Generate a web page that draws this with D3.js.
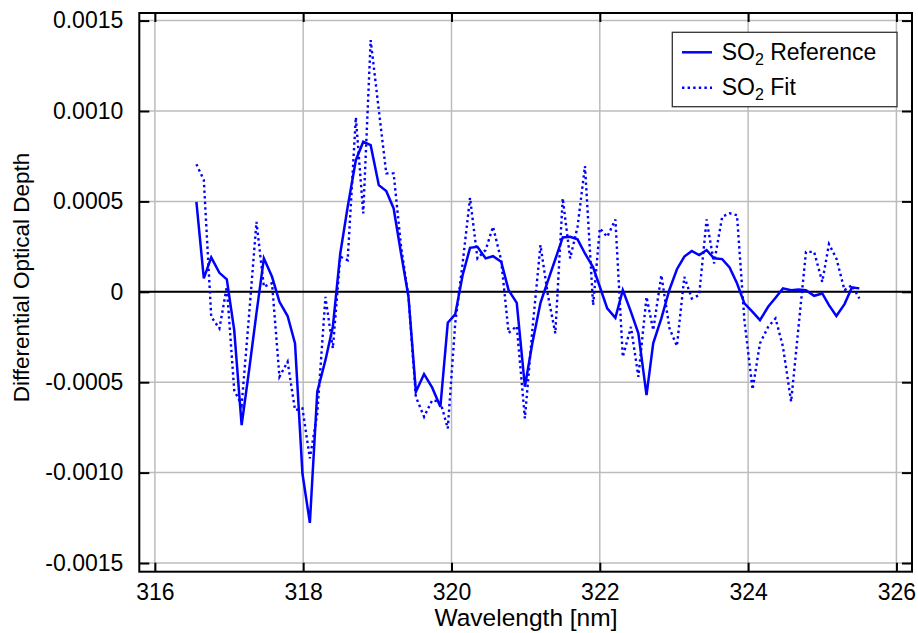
<!DOCTYPE html>
<html>
<head>
<meta charset="utf-8">
<title>SO2 Reference vs Fit</title>
<script src="https://cdnjs.cloudflare.com/ajax/libs/d3/7.8.5/d3.min.js"></script>
<style>
  body { margin: 0; background: #fff; }
  svg text { font-family: "Liberation Sans", Arial, sans-serif; fill: #000; }
</style>
</head>
<body>
<div id="chart"></div>
<script>

// wavelength grid (nm)
var wavelength = [316.56, 316.66, 316.76, 316.87, 316.97, 317.07, 317.17, 317.27, 317.37, 317.47,
  317.58, 317.68, 317.79, 317.89, 317.99, 318.09, 318.19, 318.30, 318.40, 318.50,
  318.60, 318.71, 318.81, 318.91, 319.02, 319.12, 319.22, 319.32, 319.42, 319.52,
  319.63, 319.74, 319.85, 319.95, 320.05, 320.15, 320.25, 320.35, 320.46, 320.56,
  320.67, 320.77, 320.88, 320.99, 321.09, 321.20, 321.30, 321.40, 321.50, 321.60,
  321.70, 321.80, 321.91, 322.00, 322.10, 322.21, 322.31, 322.42, 322.52, 322.63,
  322.72, 322.83, 322.94, 323.04, 323.14, 323.24, 323.34, 323.44, 323.54, 323.65,
  323.75, 323.85, 323.95, 324.06, 324.16, 324.27, 324.37, 324.47, 324.58, 324.68,
  324.78, 324.89, 325.00, 325.09, 325.19, 325.30, 325.40, 325.50];

// SO2 reference cross section (differential optical depth)
var so2Reference = [0.000498, 0.000074, 0.000190, 0.000105, 0.000069, -0.000212, -0.000737, -0.000435, -0.000118, 0.000185,
  0.000083, -0.000055, -0.000134, -0.000285, -0.001005, -0.001278, -0.000553, -0.000378, -0.000194, 0.000212,
  0.000470, 0.000728, 0.000830, 0.000811, 0.000590, 0.000557, 0.000461, 0.000212, -0.000028, -0.000553,
  -0.000455, -0.000530, -0.000636, -0.000171, -0.000125, 0.000092, 0.000243, 0.000249, 0.000185, 0.000197,
  0.000166, 0.000009, -0.000061, -0.000525, -0.000285, -0.000061, 0.000060, 0.000180, 0.000301, 0.000304,
  0.000290, 0.000212, 0.000135, 0.000028, -0.000092, -0.000144, 0.000009, -0.000111, -0.000230, -0.000571,
  -0.000285, -0.000147, 0.000013, 0.000125, 0.000195, 0.000226, 0.000203, 0.000231, 0.000185, 0.000181,
  0.000135, 0.000047, -0.000064, -0.000111, -0.000157, -0.000083, -0.000033, 0.000019, 0.000009, 0.000013,
  0.000009, -0.000022, -0.000009, -0.000074, -0.000134, -0.000068, 0.000024, 0.000019];

// SO2 fit result
var so2Fit = [0.000706, 0.000618, -0.000138, -0.000203, 0.000028, -0.000544, -0.000627, -0.000131, 0.000387, 0.000028,
  0.000047, -0.000470, -0.000387, -0.000654, -0.000645, -0.000921, -0.000673, -0.000028, -0.000313, 0.000194,
  0.000175, 0.000965, 0.000434, 0.001392, 0.001005, 0.000655, 0.000655, 0.000249, -0.000028, -0.000581,
  -0.000691, -0.000600, -0.000608, -0.000756, -0.000175, 0.000157, 0.000520, 0.000185, 0.000231, 0.000360,
  0.000175, -0.000227, -0.000190, -0.000700, -0.000212, 0.000258, -0.000018, -0.000230, 0.000517, 0.000185,
  0.000360, 0.000695, -0.000074, 0.000351, 0.000304, 0.000400, -0.000360, -0.000194, -0.000470, -0.000028,
  -0.000212, 0.000092, -0.000203, -0.000300, 0.000083, -0.000037, -0.000018, 0.000400, 0.000157, 0.000415,
  0.000434, 0.000424, -0.000157, -0.000540, -0.000285, -0.000194, -0.000147, -0.000304, -0.000608, -0.000194,
  0.000221, 0.000221, 0.000055, 0.000264, 0.000185, 0.000009, 0.000037, -0.000037];

var xTicks = [316, 318, 320, 322, 324, 326];
var yTicks = [-0.0015, -0.001, -0.0005, 0, 0.0005, 0.001, 0.0015];
var yTickLabels = ["-0.0015", "-0.0010", "-0.0005", "0", "0.0005", "0.0010", "0.0015"];
var seriesNames = ["Reference", "Fit"];

var W = 918, H = 633;
// plot box edges (window.top is reserved, so use other names)
var pLeft = 139.3, pRight = 912, pTop = 13, pBottom = 571.7;

var svg = d3.select("#chart").append("svg")
    .attr("width", W)
    .attr("height", H);

var x = d3.scaleLinear().domain([315.79, 326.21]).range([pLeft, pRight]);
var y = d3.scaleLinear().domain([-0.001548, 0.001542]).range([pBottom, pTop]);

// grid
svg.append("g").selectAll("line").data(xTicks).enter().append("line")
    .attr("x1", d => x(d)).attr("x2", d => x(d))
    .attr("y1", pTop).attr("y2", pBottom)
    .style("stroke", "#bcbcbc").style("stroke-width", 1.5);
svg.append("g").selectAll("line").data(yTicks).enter().append("line")
    .attr("x1", pLeft).attr("x2", pRight)
    .attr("y1", d => y(d)).attr("y2", d => y(d))
    .style("stroke", "#bcbcbc").style("stroke-width", 1.5);

// zero line
svg.append("line")
    .attr("x1", pLeft).attr("x2", pRight)
    .attr("y1", y(0)).attr("y2", y(0))
    .style("stroke", "#000").style("stroke-width", 2);

// data lines
var pts = wavelength.map(function(w, i) { return {w: w, r: so2Reference[i], f: so2Fit[i]}; });
var lineRef = d3.line().x(d => x(d.w)).y(d => y(d.r));
var lineFit = d3.line().x(d => x(d.w)).y(d => y(d.f));

svg.append("path").datum(pts)
    .attr("d", lineFit)
    .style("fill", "none").style("stroke", "#0000ff")
    .style("stroke-width", 2.4).style("stroke-dasharray", "2.4,3.2");
svg.append("path").datum(pts)
    .attr("d", lineRef)
    .style("fill", "none").style("stroke", "#0000ff")
    .style("stroke-width", 2.5);

// axes with inward ticks
var gB = svg.append("g").attr("transform", "translate(0," + pBottom + ")")
    .call(d3.axisBottom(x).tickValues(xTicks).tickSize(-9).tickPadding(12).tickFormat(d3.format("d")));
var gT = svg.append("g").attr("transform", "translate(0," + pTop + ")")
    .call(d3.axisTop(x).tickValues(xTicks).tickSize(-9).tickFormat(""));
var gL = svg.append("g").attr("transform", "translate(" + pLeft + ",0)")
    .call(d3.axisLeft(y).tickValues(yTicks).tickSize(-10).tickPadding(16)
      .tickFormat(function(d, i) { return yTickLabels[i]; }));
var gR = svg.append("g").attr("transform", "translate(" + pRight + ",0)")
    .call(d3.axisRight(y).tickValues(yTicks).tickSize(-10).tickFormat(""));

[gB, gT, gL, gR].forEach(function(g) {
  g.select(".domain").remove();
  g.selectAll(".tick line").style("stroke", "#000").style("stroke-width", 2);
  g.selectAll("text").style("font-size", "23px").attr("fill", "#000");
});

// frame
svg.append("rect")
    .attr("x", pLeft).attr("y", pTop)
    .attr("width", pRight - pLeft).attr("height", pBottom - pTop)
    .style("fill", "none").style("stroke", "#000").style("stroke-width", 2);

// axis titles
svg.append("text")
    .attr("x", 526).attr("y", 626)
    .attr("text-anchor", "middle")
    .style("font-size", "24.5px")
    .text("Wavelength [nm]");
svg.append("text")
    .attr("transform", "translate(29,277.5) rotate(-90)")
    .attr("text-anchor", "middle")
    .style("font-size", "22.5px")
    .text("Differential Optical Depth");

// legend
var leg = svg.append("g");
leg.append("rect")
    .attr("x", 672.3).attr("y", 32.3)
    .attr("width", 224.7).attr("height", 74.4)
    .style("fill", "#fff").style("stroke", "#333").style("stroke-width", 1.3);

seriesNames.forEach(function(name, i) {
  var ly = 52.3 + i * 35.5;
  leg.append("line")
      .attr("x1", 682).attr("x2", 712)
      .attr("y1", ly).attr("y2", ly)
      .style("stroke", "#0000ff")
      .style("stroke-width", i === 0 ? 2.5 : 2.4)
      .style("stroke-dasharray", i === 0 ? null : "2.4,3.2");
  var t = leg.append("text")
      .attr("x", 721.7).attr("y", ly + 7.5)
      .style("font-size", "23px");
  t.append("tspan").text("SO");
  t.append("tspan").attr("dy", 5).style("font-size", "16px").text("2");
  t.append("tspan").attr("dy", -5).text(" " + name);
});

</script>
</body>
</html>
